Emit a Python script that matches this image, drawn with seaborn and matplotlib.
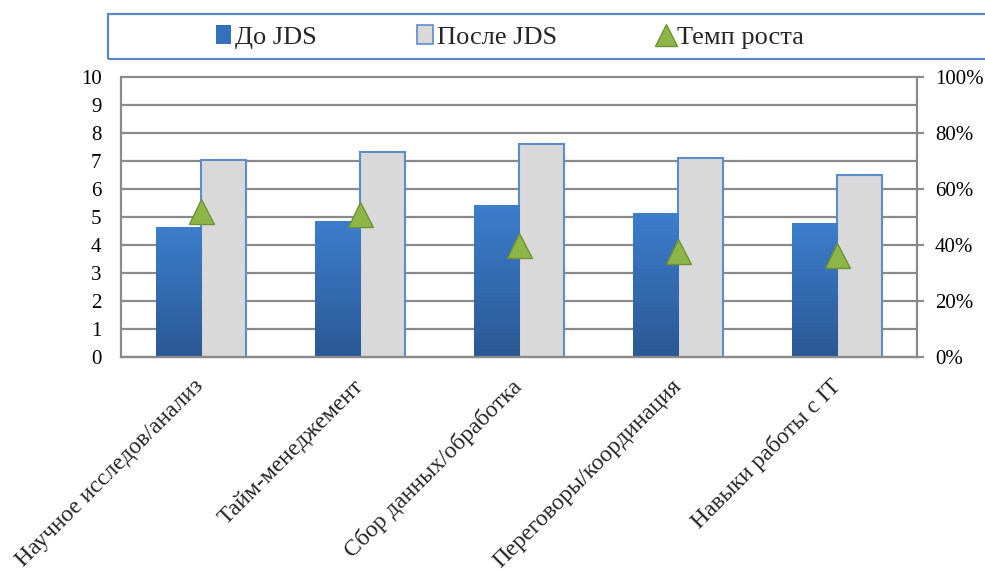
import numpy as np
import pandas as pd
import matplotlib
matplotlib.use("Agg")
import matplotlib.pyplot as plt
import seaborn as sns
from matplotlib.colors import LinearSegmentedColormap
from matplotlib.lines import Line2D
from matplotlib.patches import Patch, Rectangle
from matplotlib.ticker import PercentFormatter

# ---- data ----
categories = ["Научное исследов/анализ", "Тайм-менеджемент", "Сбор данных/обработка",
              "Переговоры/координация", "Навыки работы с IT"]
before = [4.63, 4.84, 5.44, 5.16, 4.77]
after = [7.05, 7.33, 7.62, 7.12, 6.51]
growth = [0.52, 0.51, 0.40, 0.38, 0.365]
series_names = ["До JDS", "После JDS", "Темп роста"]
left_ticks = list(range(0, 11))
right_ticks = [0, 0.2, 0.4, 0.6, 0.8, 1.0]

sns.set_theme(style="white")
plt.rcParams["font.family"] = ["Liberation Serif", "DejaVu Serif"]

W, H = 985, 573
GRID = "#8A8A8A"
fig = plt.figure(figsize=(W / 100, H / 100), dpi=100)
ax = fig.add_axes([121 / W, 1 - 357 / H, (917 - 121) / W, (357 - 77) / H])

df = pd.DataFrame({
    "cat": categories * 2,
    "series": [series_names[0]] * len(categories) + [series_names[1]] * len(categories),
    "val": before + after,
})
sns.barplot(data=df, x="cat", y="val", hue="series", order=categories,
            hue_order=series_names[:2], palette=["#3A7BC8", "#D9D9D9"],
            width=0.566, gap=0, saturation=1, legend=False, ax=ax, zorder=2)

blue_cmap = LinearSegmentedColormap.from_list("b", ["#2B5895", "#3D7ECC"])
grad = np.linspace(1, 0, 256).reshape(-1, 1)
n = len(categories)
for i, p in enumerate(ax.patches):
    if i < n:
        p.set_edgecolor("none")
        x0, w, h = p.get_x(), p.get_width(), p.get_height()
        im = ax.imshow(grad, extent=[x0, x0 + w, 0, h], aspect="auto",
                       cmap=blue_cmap, zorder=2.1, origin="upper")
        im.set_clip_path(p)
    else:
        p.set_edgecolor("#5B8CCB")
        p.set_linewidth(1.5)

ax.set_xlim(-0.5, n - 0.5)
ax.set_ylim(0, 10)
ax.set_yticks(left_ticks)
ax.yaxis.grid(True, color=GRID, linewidth=1.6)
for gl in ax.get_ygridlines():
    gl.set_clip_on(False)
ax.set_axisbelow(True)
for name, s in ax.spines.items():
    s.set_visible(name in ("left", "bottom"))
    s.set_color(GRID)
    s.set_linewidth(1.6)
ax.set_xlabel("")
ax.set_ylabel("")
ax.tick_params(axis="y", labelsize=15, pad=14, length=0, colors="black")
ax.tick_params(axis="x", length=0, pad=19)
ax.set_xticks(range(n))
ax.set_xticklabels(categories, rotation=45, ha="right", va="center",
                   rotation_mode="anchor", fontsize=17)

ax2 = ax.twinx()
ax2.plot(np.arange(n), growth, linestyle="none", marker="^", ms=18,
         color="#8DB548", markeredgecolor="#6E9334", markeredgewidth=1, zorder=5)
ax2.set_ylim(0, 1)
ax2.set_yticks(right_ticks)
ax2.yaxis.set_major_formatter(PercentFormatter(1.0, decimals=0))
ax2.tick_params(axis="y", labelsize=15, pad=8, length=5, width=1.6,
                color=GRID, colors="black", direction="out", right=True)
ax2.tick_params(axis="y", color=GRID)
for name, s in ax2.spines.items():
    s.set_visible(name == "right")
    s.set_color(GRID)
    s.set_linewidth(1.6)
ax2.grid(False)
ax.set_xlim(-0.5, n - 0.5)

# legend
fig.add_artist(Rectangle((108 / W, 1 - 59 / H), 0.95, 45 / H, transform=fig.transFigure,
                         fill=False, edgecolor="#5B87C5", linewidth=1.6))
handles = [
    Patch(facecolor="#3570BA", edgecolor="none"),
    Patch(facecolor="#D9D9D9", edgecolor="#5B8CCB", linewidth=1.2),
    Line2D([], [], linestyle="none", marker="^", ms=16, color="#8DB548",
           markeredgecolor="#6E9334"),
]
fig.legend(handles, series_names, loc="center", bbox_to_anchor=(510 / W, 1 - 37 / H),
           ncol=3, frameon=False, fontsize=19, handlelength=0.6, handleheight=0.75,
           handletextpad=0.15, columnspacing=3.8)

fig.savefig("out.png", dpi=100)
